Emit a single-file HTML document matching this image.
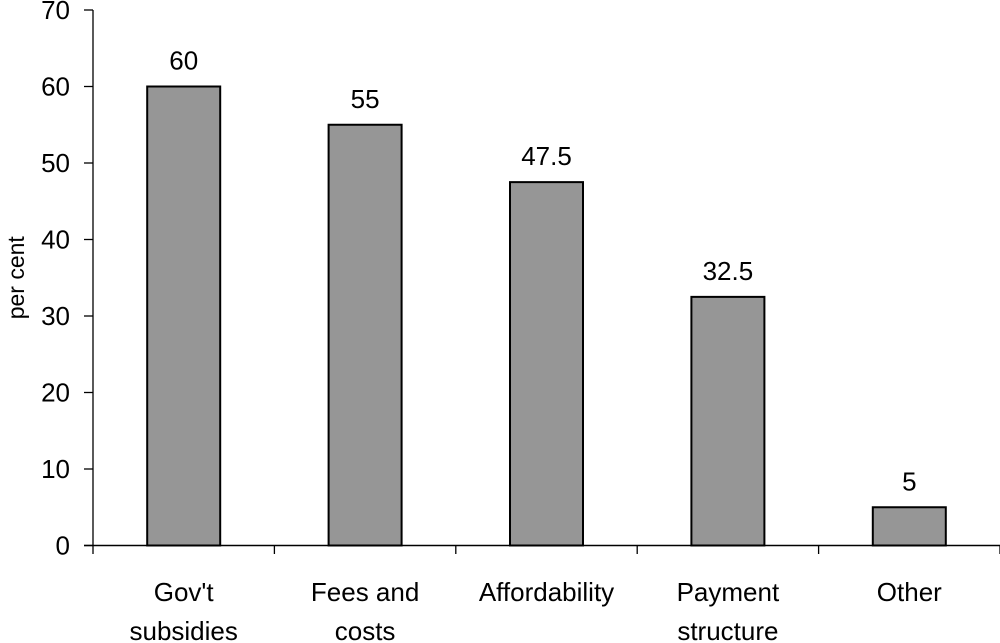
<!DOCTYPE html>
<html><head><meta charset="utf-8"><style>
html,body{margin:0;padding:0;background:#fff}
svg{display:block;font-family:"Liberation Sans",Arial,sans-serif}
</style></head><body>
<svg id="chart" width="1000" height="643" viewBox="0 0 1000 643"></svg>
<script>
const categories = [["Gov't","subsidies"],["Fees and","costs"],["Affordability",""],["Payment","structure"],["Other",""]];
const values = [60,55,47.5,32.5,5];
const valueLabels = ["60","55","47.5","32.5","5"];
const yTicks = [0,10,20,30,40,50,60,70];

const NS="http://www.w3.org/2000/svg";
const svg=document.getElementById('chart');
const x0=93, x1=1000, yBase=545.5, yTop=10;
const yMax=70;
const y=v=>yBase-(v/yMax)*(yBase-yTop);
const band=(x1-x0)/categories.length;
const xc=i=>x0+band*(i+0.5);
const barW=73;
function mk(tag,attrs){const e=document.createElementNS(NS,tag);for(const k in attrs)e.setAttribute(k,attrs[k]);svg.appendChild(e);return e;}

let e=mk('text',{x:0,y:0,'font-size':23,'text-anchor':'middle',transform:`translate(24,${y(35)}) rotate(-90)`});
e.textContent='per cent';



yTicks.forEach(t=>{
  const l=mk('line',{x1:84,x2:x0,y1:y(t),y2:y(t),stroke:'#000','stroke-width':1.3});
  
  
  const tx=mk('text',{x:70,y:y(t)+9,'font-size':26,'text-anchor':'end'});
  tx.textContent=t;
  
  
});

values.forEach((v,i)=>{
  const r=mk('rect',{x:xc(i)-barW/2,y:y(v),width:barW,height:yBase-y(v),fill:'#969696',stroke:'#000','stroke-width':2});
  
  
  const t=mk('text',{x:xc(i),y:y(v)-17,'font-size':26,'text-anchor':'middle'});
  t.textContent=valueLabels[i];
  
  
  const c1=mk('text',{x:xc(i),y:601,'font-size':26,'text-anchor':'middle'});
  c1.textContent=categories[i][0];
  
  
  if(categories[i][1]){
    const c2=mk('text',{x:xc(i),y:640,'font-size':26,'text-anchor':'middle'});
    c2.textContent=categories[i][1];
    
    
  }
});
for(let i=0;i<=categories.length;i++){
  const l=mk('line',{x1:x0+band*i,x2:x0+band*i,y1:yBase,y2:554,stroke:'#000','stroke-width':1.3});
  
  
}
let ax=mk('line',{x1:x0,x2:x0,y1:yTop,y2:yBase,stroke:'#000','stroke-width':1.3});


let bx=mk('line',{x1:84,x2:x1,y1:yBase,y2:yBase,stroke:'#000','stroke-width':1.5});


</script>
</body></html>
